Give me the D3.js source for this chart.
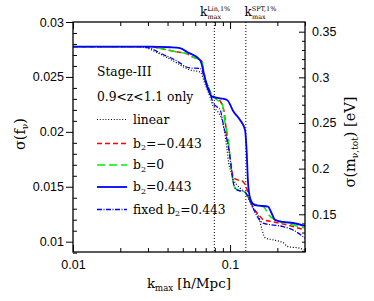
<!DOCTYPE html>
<html>
<head>
<meta charset="utf-8">
<script src="https://cdn.jsdelivr.net/npm/d3@7"></script>
<style>
  body { margin: 0; background: #fff; }
  text { fill: #000; }
</style>
</head>
<body>
<svg id="chart" width="374" height="301"></svg>
<script>
// k_max [h/Mpc] and sigma(f_nu)
const kLinear = [0.01, 0.0267, 0.0358, 0.0447, 0.0556, 0.0644, 0.0693, 0.0746, 0.078, 0.0839, 0.0889, 0.0929, 0.0957, 0.0981, 0.1015, 0.1053, 0.1108, 0.121, 0.1265, 0.1321, 0.1416, 0.1523, 0.1599, 0.1678, 0.1898, 0.2198, 0.2307, 0.2792, 0.30];
const sLinear = [0.02775, 0.02775, 0.02709, 0.02636, 0.02563, 0.02545, 0.02436, 0.02317, 0.02235, 0.0218, 0.02108, 0.01971, 0.01835, 0.01716, 0.01635, 0.01562, 0.01516, 0.01462, 0.01434, 0.0138, 0.01289, 0.01225, 0.01106, 0.01034, 0.01015, 0.00988, 0.00957, 0.0094, 0.00925];

const kNeg = [0.01, 0.0309, 0.0358, 0.045, 0.0532, 0.0573, 0.0663, 0.068, 0.073, 0.0768, 0.0866, 0.0889, 0.0912, 0.0957, 0.1, 0.103, 0.1061, 0.1125, 0.1192, 0.1274, 0.1341, 0.1411, 0.1508, 0.164, 0.1898, 0.2307, 0.30];
const sNeg = [0.02775, 0.02775, 0.0276, 0.0273, 0.0271, 0.02684, 0.02639, 0.02547, 0.02396, 0.02335, 0.0228, 0.02245, 0.02199, 0.0195, 0.0178, 0.01635, 0.0158, 0.01562, 0.01553, 0.01489, 0.0137, 0.01307, 0.01252, 0.01198, 0.0118, 0.01152, 0.01106];

const kZero = [0.01, 0.0309, 0.0358, 0.045, 0.0532, 0.0573, 0.0663, 0.068, 0.073, 0.079, 0.0827, 0.0889, 0.093, 0.0975, 0.1, 0.103, 0.1061, 0.1108, 0.1246, 0.1302, 0.1361, 0.1508, 0.164, 0.1764, 0.1935, 0.2307, 0.30];
const sZero = [0.02775, 0.02775, 0.0276, 0.0273, 0.0271, 0.02684, 0.02639, 0.02547, 0.02396, 0.0232, 0.0229, 0.0226, 0.0208, 0.01926, 0.01771, 0.0161, 0.01507, 0.01471, 0.01452, 0.01407, 0.01352, 0.01334, 0.01316, 0.01243, 0.01198, 0.01167, 0.01125];

const kPos = [0.01, 0.0309, 0.0415, 0.048, 0.0532, 0.0644, 0.0714, 0.0768, 0.0866, 0.0957, 0.1056, 0.1158, 0.1246, 0.1274, 0.1302, 0.1341, 0.1401, 0.1464, 0.1746, 0.1824, 0.1935, 0.2176, 0.2519, 0.30];
const sPos = [0.02775, 0.02775, 0.0277, 0.02763, 0.02727, 0.02654, 0.02411, 0.0232, 0.02305, 0.0229, 0.0218, 0.02108, 0.02017, 0.01835, 0.01534, 0.01398, 0.01343, 0.0133, 0.0132, 0.0127, 0.01198, 0.0118, 0.0117, 0.01143];

const kFixed = [0.01, 0.0267, 0.0309, 0.0358, 0.0447, 0.0556, 0.0644, 0.0696, 0.0749, 0.078, 0.0827, 0.0866, 0.0912, 0.0957, 0.1, 0.103, 0.1061, 0.1108, 0.1246, 0.1302, 0.1361, 0.1421, 0.1508, 0.1623, 0.2176, 0.2519, 0.30];
const sFixed = [0.02775, 0.02775, 0.02763, 0.02718, 0.02654, 0.02581, 0.02578, 0.02472, 0.02351, 0.02263, 0.02226, 0.02199, 0.02047, 0.01926, 0.01762, 0.0161, 0.01507, 0.01471, 0.01452, 0.01407, 0.01352, 0.01289, 0.01216, 0.01168, 0.01137, 0.01106, 0.01031];

const leftTicks = [0.01, 0.015, 0.02, 0.025, 0.03];
const rightTicks = [0.15, 0.2, 0.25, 0.3, 0.35];
const bottomTicks = [0.01, 0.1];
const kMarks = [0.0794, 0.126];   // k_max^{Lin,1%}, k_max^{SPT,1%}

const svg = d3.select("#chart");
const x0 = 73, x1 = 305, y0 = 22, y1 = 252;

const x = d3.scaleLog().domain([0.01, 0.3]).range([x0, x1]);
const yL = d3.scaleLinear().domain([0.00906, 0.03]).range([y1, y0]);
const yR = d3.scaleLinear().domain([0.1087, 0.3606]).range([y1, y0]);

const minorK = [0.02, 0.03, 0.04, 0.05, 0.06, 0.07, 0.08, 0.09, 0.2, 0.3];
const minorL = d3.range(9, 31).map(d => d / 1000).filter(d => !leftTicks.includes(d));
const minorR = d3.range(11, 36).map(d => d / 100).filter(d => !rightTicks.includes(d));

function clean(g) {
  g.select(".domain").remove();
  g.selectAll(".tick line").attr("stroke", "#000").attr("stroke-width", 1);
  g.selectAll(".tick text")
    .attr("font-family", "Liberation Sans, Arial, sans-serif")
    .attr("font-size", 12.5)
    .attr("fill", "#000");
}

// left axis: major outward, minor inward
svg.append("g").attr("transform", `translate(${x0},0)`)
  .call(d3.axisLeft(yL).tickValues(leftTicks).tickSize(7).tickPadding(2)
    .tickFormat(d3.format("")))
  .call(clean);
svg.append("g").attr("transform", `translate(${x0},0)`)
  .call(d3.axisRight(yL).tickValues(minorL).tickSize(4).tickFormat(""))
  .call(clean);

// right axis
svg.append("g").attr("transform", `translate(${x1},0)`)
  .call(d3.axisRight(yR).tickValues(rightTicks).tickSizeInner(-6).tickSizeOuter(0)
    .tickPadding(7).tickFormat(d3.format("")))
  .call(clean);
svg.append("g").attr("transform", `translate(${x1},0)`)
  .call(d3.axisLeft(yR).tickValues(minorR).tickSize(3).tickFormat(""))
  .call(clean);

// bottom + top
svg.append("g").attr("transform", `translate(0,${y1})`)
  .call(d3.axisBottom(x).tickValues(bottomTicks).tickSizeInner(-7).tickSizeOuter(0)
    .tickPadding(6).tickFormat(d3.format("")))
  .call(clean)
  .call(g => g.selectAll(".tick text").attr("dy", "0.9em"));
svg.append("g").attr("transform", `translate(0,${y1})`)
  .call(d3.axisTop(x).tickValues(minorK).tickSize(4).tickFormat(""))
  .call(clean);
svg.append("g").attr("transform", `translate(0,${y0})`)
  .call(d3.axisBottom(x).tickValues(bottomTicks).tickSize(7).tickFormat(""))
  .call(clean);
svg.append("g").attr("transform", `translate(0,${y0})`)
  .call(d3.axisBottom(x).tickValues(minorK).tickSize(4).tickFormat(""))
  .call(clean);

// vertical k_max markers
svg.append("g").selectAll("line").data(kMarks).join("line")
  .attr("x1", d => x(d)).attr("x2", d => x(d))
  .attr("y1", y0).attr("y2", y1)
  .attr("stroke", "#000").attr("stroke-width", 1).attr("stroke-dasharray", "1,2");

const serif = "DejaVu Serif, serif";
function kLabel(xp, sup) {
  const t = svg.append("text").attr("x", xp).attr("y", 16)
    .attr("font-family", serif).attr("font-size", 12);
  t.append("tspan").text("k");
  t.append("tspan").attr("font-size", 6.5).attr("dy", -5).text(sup);
  svg.append("text").attr("x", xp + 7.5).attr("y", 19)
    .attr("font-family", serif).attr("font-size", 6.5).text("max");
}
kLabel(200, "Lin,1%");
kLabel(244.5, "SPT,1%");

// curves
const series = [
  {k: kLinear, s: sLinear, color: "#000", width: 1.2, dash: "1,1.8"},
  {k: kNeg, s: sNeg, color: "#ff0000", width: 1.5, dash: "5,3"},
  {k: kZero, s: sZero, color: "#00ee00", width: 1.5, dash: "8,4"},
  {k: kPos, s: sPos, color: "#0000ff", width: 1.8, dash: null},
  {k: kFixed, s: sFixed, color: "#0000ff", width: 1.3, dash: "5,1.5,1,1.5"}
];

const line = d3.line()
  .x(d => x(d[0]))
  .y(d => yL(d[1]))
  .curve(d3.curveMonotoneX);

const plot = svg.append("g");
plot.selectAll("path").data(series).join("path")
  .attr("fill", "none")
  .attr("stroke", d => d.color)
  .attr("stroke-width", d => d.width)
  .attr("stroke-dasharray", d => d.dash)
  .attr("d", d => line(d.k.map((k, i) => [k, d.s[i]])));

// frame
svg.append("rect").attr("x", x0).attr("y", y0)
  .attr("width", x1 - x0).attr("height", y1 - y0)
  .attr("fill", "none").attr("stroke", "#000").attr("stroke-width", 1.3);

// legend
const legend = svg.append("g").attr("font-family", serif).attr("font-size", 12.3);
legend.append("text").attr("x", 97).attr("y", 76).text("Stage-III");
legend.append("text").attr("x", 97).attr("y", 101).text("0.9<z<1.1 only");

const legendRows = [
  {y: 119.5, pre: "linear", b: null},
  {y: 143.5, pre: "b", b: "=\u22120.443"},
  {y: 165, pre: "b", b: "=0"},
  {y: 187, pre: "b", b: "=0.443"},
  {y: 209.5, pre: "fixed b", b: "=0.443"}
];
legendRows.forEach((r, i) => {
  const s = series[i];
  legend.append("line")
    .attr("x1", 97).attr("x2", 127).attr("y1", r.y).attr("y2", r.y)
    .attr("stroke", s.color).attr("stroke-width", s.width)
    .attr("stroke-dasharray", s.dash);
  const t = legend.append("text").attr("x", 133).attr("y", r.y + 4);
  t.append("tspan").text(r.pre);
  if (r.b) {
    t.append("tspan").attr("font-size", 8).attr("dy", 2.5).text("2");
    t.append("tspan").attr("dy", -2.5).text(r.b);
  }
});

// axis titles
const xt = svg.append("text").attr("x", 189).attr("y", 288)
  .attr("text-anchor", "middle").attr("font-family", serif).attr("font-size", 13.5);
xt.append("tspan").text("k");
xt.append("tspan").attr("font-size", 8.5).attr("dy", 3).text("max");
xt.append("tspan").attr("dy", -3).text(" [h/Mpc]");

const ylt = svg.append("text")
  .attr("transform", "translate(25,134) rotate(-90)")
  .attr("text-anchor", "middle").attr("font-family", serif).attr("font-size", 14.5);
ylt.append("tspan").text("\u03c3(f");
ylt.append("tspan").attr("font-size", 9).attr("dy", 3).text("\u03bd");
ylt.append("tspan").attr("dy", -3).text(")");

const yrt = svg.append("text")
  .attr("transform", "translate(355,142) rotate(-90)")
  .attr("text-anchor", "middle").attr("font-family", serif).attr("font-size", 14.5);
yrt.append("tspan").text("\u03c3(m");
yrt.append("tspan").attr("font-size", 9).attr("dy", 3).text("\u03bd,tot");
yrt.append("tspan").attr("dy", -3).text(") [eV]");
</script>
</body>
</html>
